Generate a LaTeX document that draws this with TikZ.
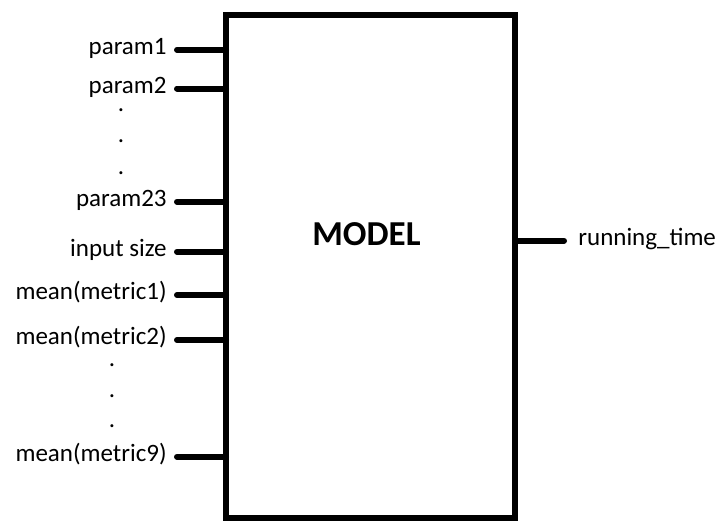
\documentclass[tikz,border=0pt]{standalone}
\usepackage{fontspec}
\setmainfont{Carlito}
\usetikzlibrary{calc}

\begin{document}
\begin{tikzpicture}[x=0.5pt, y=-0.5pt]

        % 1. Fix the canvas (pixel grid of the original figure)
        \useasboundingbox (0,0) rectangle (717,521);

        \tikzset{
            blockbox/.style={draw, rectangle, line width=3.25pt, minimum width=144.5pt, minimum height=251.5pt, inner sep=0pt, outer sep=0pt},
            inlabel/.style={anchor=east, font=\fontsize{12.5}{15}\selectfont, inner xsep=5pt, inner ysep=0pt, text height=0.7em, text depth=0.25em},
            outlabel/.style={inlabel, anchor=west, inner xsep=7pt},
            stub/.style={line width=3pt, line cap=round},
            vdot/.style={font=\fontsize{12.5}{15}\selectfont, inner sep=0pt, anchor=base}
        }

        % 2. The model block and its title
        \node[blockbox] (model) at (370.5, 266.5) {};
        \node[font=\fontsize{17.5}{20}\selectfont\bfseries, inner sep=0pt] (title) at (366.5, 234) {MODEL};

        % 3. Inputs on the left, each with a stub into the block
        \foreach \name/\txt/\ypos in {p1/param1/49.8, p2/param2/88.5, p23/param23/201.7, insize/input size/251.7, m1/mean(metric1)/295, m2/mean(metric2)/340, m9/mean(metric9)/456.7} {
            \node[inlabel] (\name) at (177, \ypos) {\txt};
            \draw[stub] (\name.east) -- (\name.east -| model.west);
        }

        % 4. Output on the right
        \node[outlabel] (rtime) at (564, 240.7) {running\_time};
        \draw[stub] (model.east |- rtime.west) -- (rtime.west);

        % 5. Ellipsis dots between the groups
        \foreach \ypos [count=\i] in {111.8, 142.8, 174.8} \node[vdot] (pdot\i) at (121, \ypos) {.};
        \foreach \ypos [count=\i] in {366.8, 397.8, 427.8} \node[vdot] (mdot\i) at (112, \ypos) {.};

\end{tikzpicture}
\end{document}
